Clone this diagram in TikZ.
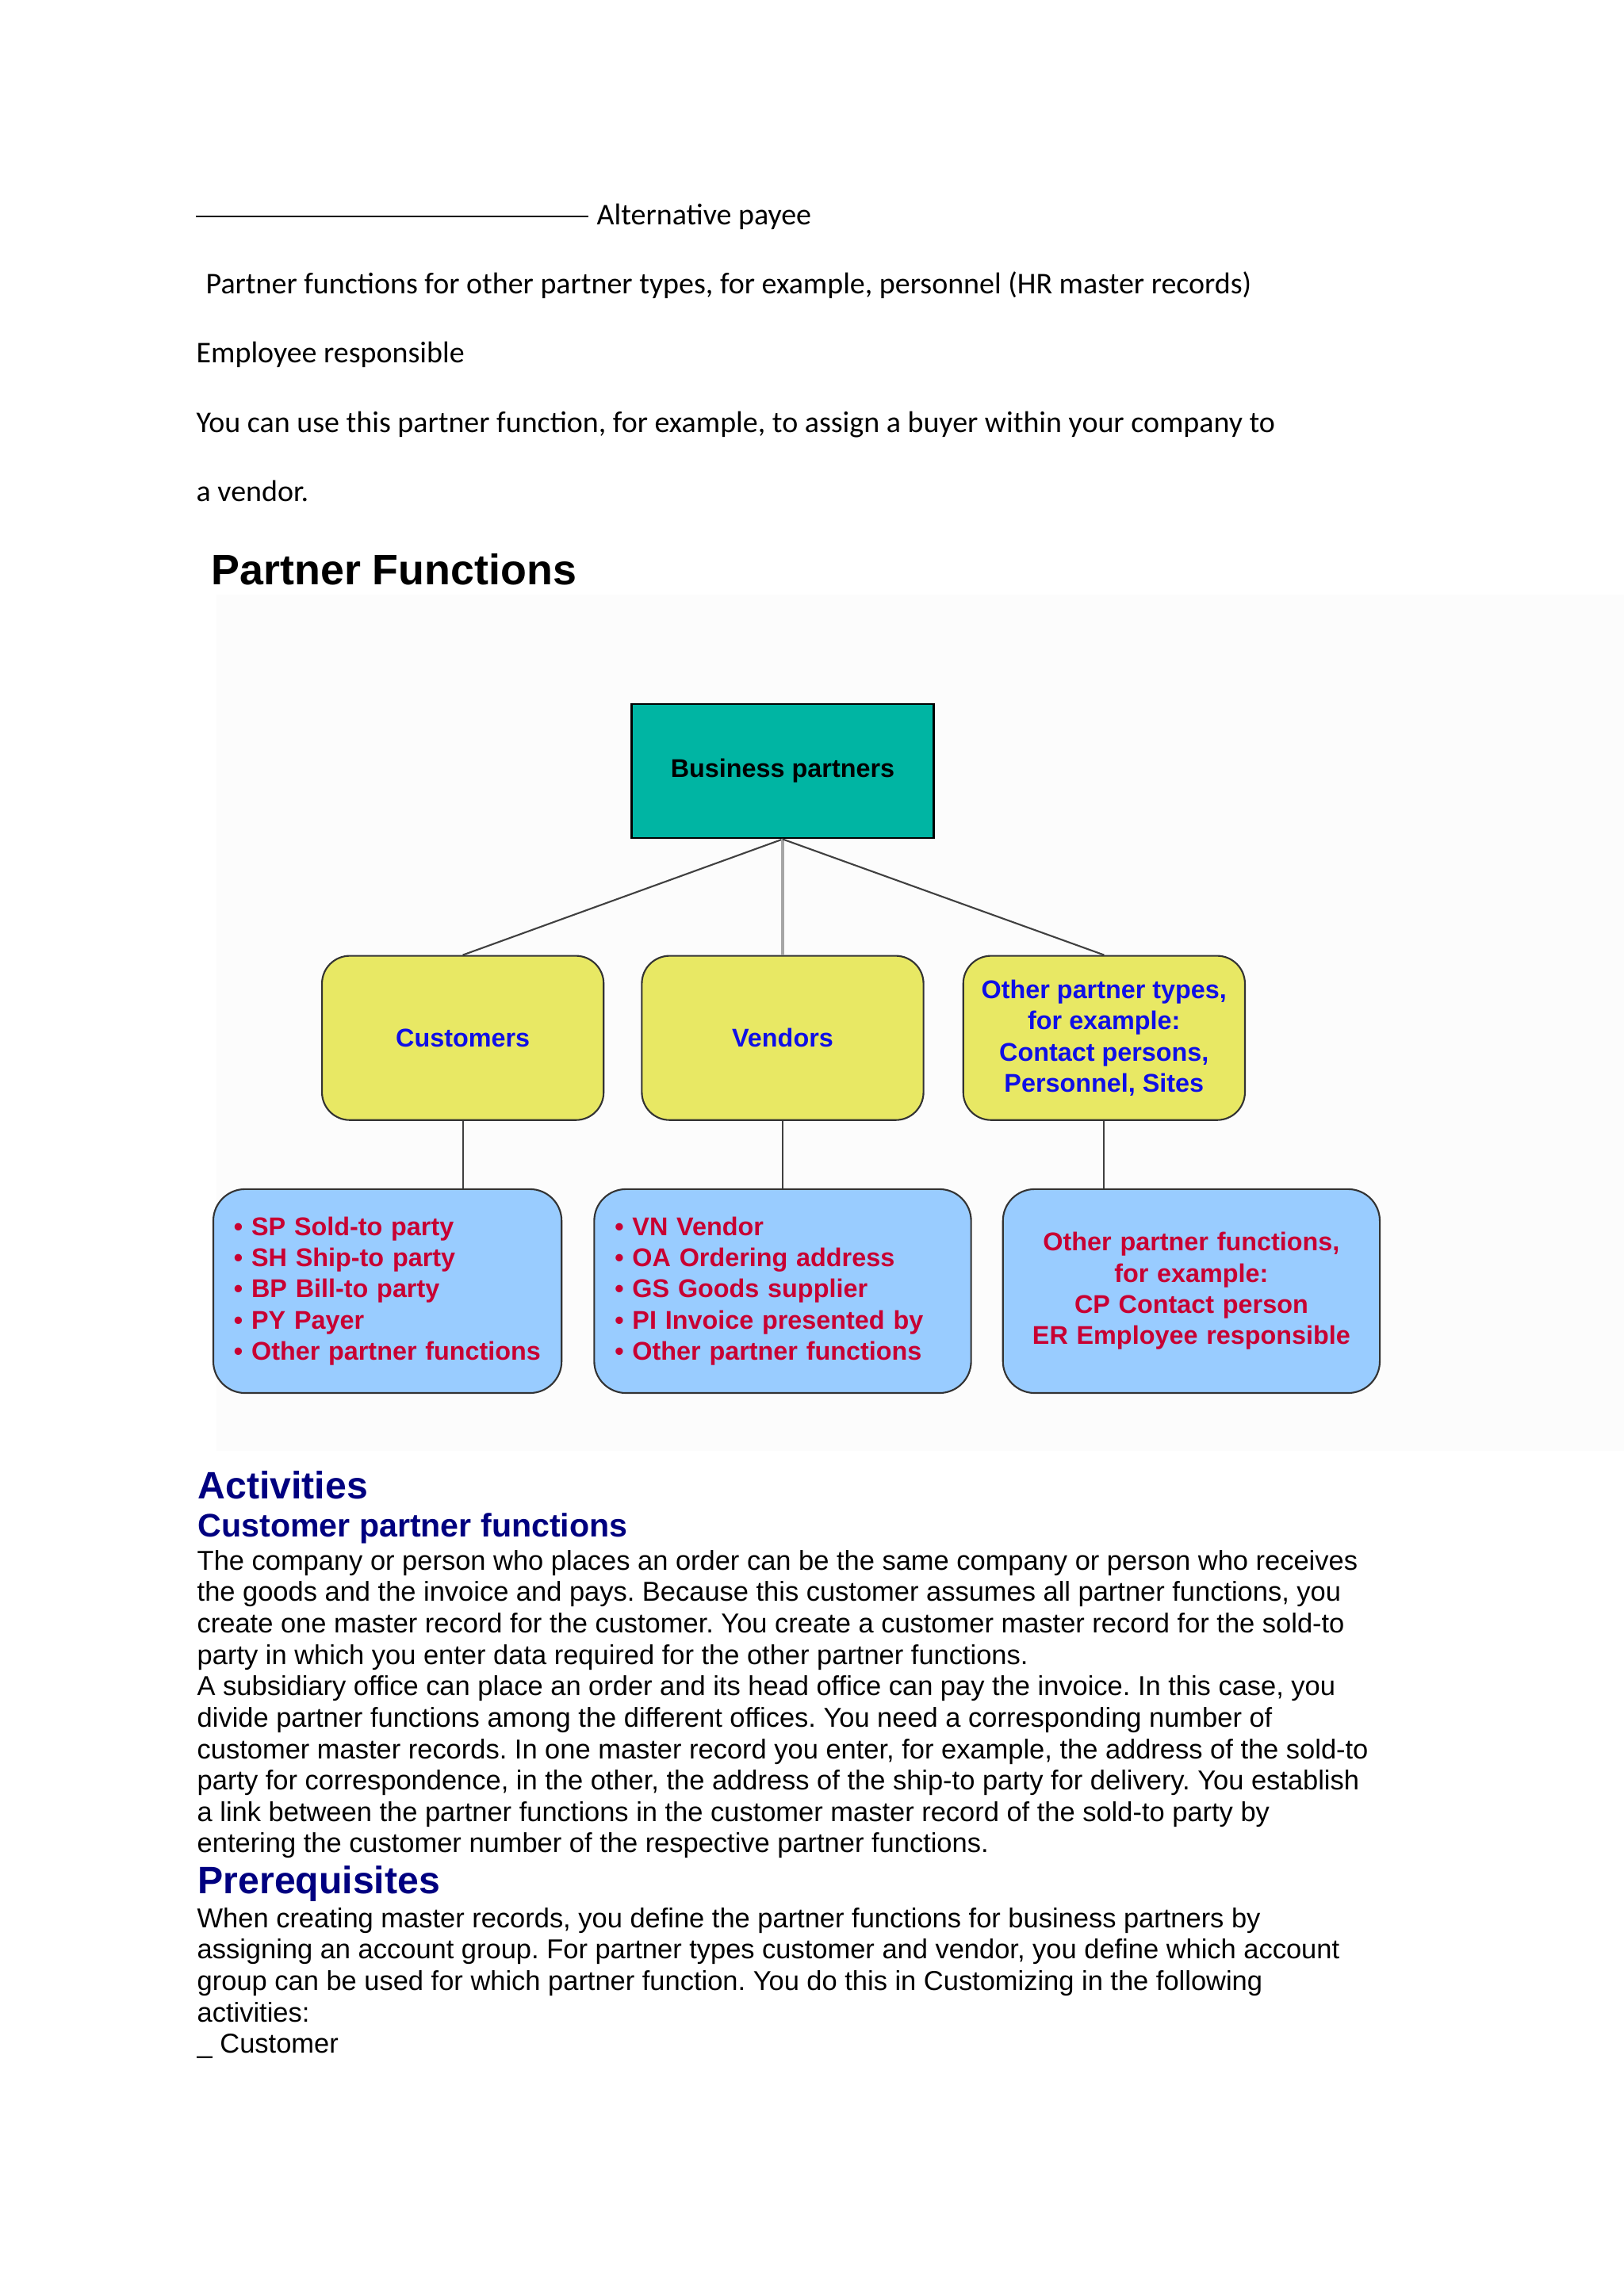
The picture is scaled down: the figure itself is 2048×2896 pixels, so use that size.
\documentclass[tikz,border=0pt]{standalone}
\usepackage{fontspec}
\setmainfont{Liberation Sans}
\newfontfamily\calibri{Carlito}
\usetikzlibrary{positioning}
\frenchspacing
\definecolor{bpteal}{RGB}{0,181,163}
\definecolor{typyellow}{RGB}{232,232,100}
\definecolor{typblue}{RGB}{15,15,230}
\definecolor{fnblue}{RGB}{153,204,255}
\definecolor{fnred}{RGB}{200,0,50}
\definecolor{navyhead}{RGB}{0,0,128}
\definecolor{panelgray}{RGB}{252,252,252}

\begin{document}
\begin{tikzpicture}[
    x=0.01cm, y=-0.01cm,
    every node/.style={inner sep=0pt},
    doctxt/.style={font=\calibri\fontsize{10.8}{13}\selectfont, anchor=base west},
    bodytxt/.style={font=\fontsize{9.8}{11.27}\selectfont, align=left, anchor=north west},
    headtxt/.style={font=\fontsize{13.7}{16}\selectfont\bfseries, text=navyhead, anchor=base west},
    subhead/.style={font=\fontsize{11.7}{14}\selectfont\bfseries, text=navyhead, anchor=base west},
    bpbox/.style={
      draw=black, line width=0.8pt, fill=bpteal,
      minimum width=3.8cm, minimum height=1.69cm,
      font=\fontsize{9.2}{11.2}\selectfont\bfseries
    },
    typbox/.style={
      draw=black!80, line width=0.6pt, rounded corners=0.35cm, fill=typyellow,
      minimum width=3.55cm, minimum height=2.07cm, align=center, text=typblue,
      font=\fontsize{9.2}{11.2}\selectfont\bfseries
    },
    fnbox/.style={
      draw=black!80, line width=0.6pt, rounded corners=0.4cm, fill=fnblue,
      minimum height=2.57cm, inner xsep=0.26cm, align=left, text=fnred,
      font=\fontsize{9.2}{11.2}\selectfont\bfseries
    },
    link/.style={line width=0.6pt, draw=black!75}
  ]
    \useasboundingbox (0,0) rectangle (2048,2896);
    \fill[white] (0,0) rectangle (2048,2896);
    \fill[panelgray] (273,750) rectangle (2048,1830);

    % --- Texto de la pagina ---
    \coordinate (rulestart) at (247,273);
    \coordinate (ruleend) at (742,273);
    \draw[line width=0.6pt] (rulestart) -- (ruleend);
    \node[doctxt] (altpayee) at (752,283) {Alternative payee};
    \node[doctxt] (othertypes) at (259,370)
      {Partner functions for other partner types, for example, personnel (HR master records)};
    \node[doctxt] (emplresp) at (247,457) {Employee responsible};
    \node[doctxt] (usetxt) at (247,545)
      {You can use this partner function, for example, to assign a buyer within your company to};
    \node[doctxt] (vendortxt) at (247,632) {a vendor.};

    \node[font=\fontsize{15.3}{18}\selectfont\bfseries, anchor=base west]
      (title) at (266,737) {Partner Functions};

    % --- Diagrama ---
    \node[bpbox] (bp) at (987,972.5) {Business partners};
    \node[typbox, below=1.46cm of bp] (ven) {Vendors};
    \node[typbox, left=0.46cm of ven] (cust) {Customers};
    \node[typbox, right=0.48cm of ven] (oth)
      {Other partner types,\\for example:\\Contact persons,\\Personnel, Sites};

    \node[fnbox, text width=4.23cm, below=0.85cm of ven] (fnven)
      {• VN Vendor\\• OA Ordering address\\• GS Goods supplier\\%
       • PI Invoice presented by\\• Other partner functions};
    \node[fnbox, text width=3.87cm, left=0.39cm of fnven] (fncust)
      {• SP Sold-to party\\• SH Ship-to party\\• BP Bill-to party\\%
       • PY Payer\\• Other partner functions};
    \node[fnbox, text width=4.23cm, align=center, right=0.38cm of fnven] (fnoth)
      {Other partner functions,\\for example:\\CP Contact person\\ER Employee responsible};

    % --- Lineas ---
    \draw[link] (bp.south) -- (cust.north);
    \draw[link, draw=gray!70, line width=0.9pt] (bp.south) -- (ven.north);
    \draw[link] (bp.south) -- (oth.north);
    \draw[link] (cust.south) -- (cust.south |- fncust.north);
    \draw[link] (ven.south) -- (ven.south |- fnven.north);
    \draw[link] (oth.south) -- (oth.south |- fnoth.north);

    % --- Activities ---
    \node[headtxt] (activ) at (249,1890) {Activities};
    \node[subhead] (custfn) at (249,1938) {Customer partner functions};
    \node[bodytxt] (custpara) at (248,1954.5)
      {The company or person who places an order can be the same company or person who receives\\
       the goods and the invoice and pays. Because this customer assumes all partner functions, you\\
       create one master record for the customer. You create a customer master record for the sold-to\\
       party in which you enter data required for the other partner functions.\\
       A subsidiary office can place an order and its head office can pay the invoice. In this case, you\\
       divide partner functions among the different offices. You need a corresponding number of\\
       customer master records. In one master record you enter, for example, the address of the sold-to\\
       party for correspondence, in the other, the address of the ship-to party for delivery. You establish\\
       a link between the partner functions in the customer master record of the sold-to party by\\
       entering the customer number of the respective partner functions.};

    % --- Prerequisites ---
    \node[headtxt] (prereq) at (249,2388) {Prerequisites};
    \node[bodytxt] (prereqpara) at (248,2405.5)
      {When creating master records, you define the partner functions for business partners by\\
       assigning an account group. For partner types customer and vendor, you define which account\\
       group can be used for which partner function. You do this in Customizing in the following\\
       activities:\\
       \_ Customer};
  \end{tikzpicture}
\end{document}
